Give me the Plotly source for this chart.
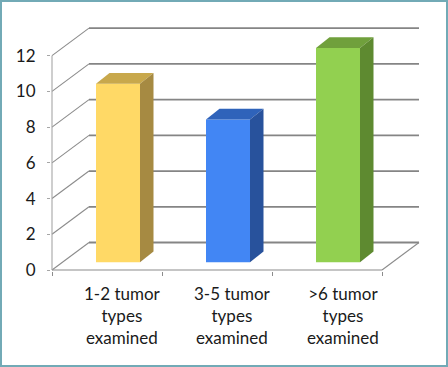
import plotly.graph_objects as go

# ---- data ----
categories = ["1-2 tumor<br>types<br>examined",
              "3-5 tumor<br>types<br>examined",
              ">6 tumor<br>types<br>examined"]
values = [10, 8, 12]
y_ticks = [0, 2, 4, 6, 8, 10, 12]

front_colors = ["#FFD966", "#4286F4", "#92D050"]
top_colors = ["#C8A84C", "#2F63BA", "#70A03C"]
side_colors = ["#A68A42", "#28529C", "#5E8A30"]

# ---- layout geometry ----
W, H = 448, 367
L, R, T, B = 51, 25, 24, 96
PX_X = 110.0   # pixels per category
PX_Y = 17.86   # pixels per value unit
x_lo = -0.5 - 1 / PX_X
x_hi = x_lo + (W - L - R) / PX_X
y_lo = -1 / PX_Y
y_hi = y_lo + (H - T - B) / PX_Y
PW, PH = W - L - R, H - T - B

DX, DY = 37 / PX_X, 27.5 / PX_Y          # wall depth
BAR_W = 0.4
BAR_OFF_X, BAR_OFF_Y = 0.1, 7.7 / PX_Y   # bar front offset into depth
BDX, BDY = 13.5 / PX_X, 10.7 / PX_Y      # bar depth
LABEL_SHIFT = 0.145

n = len(values)
x_left, x_right = -0.5, n - 0.5
idx = list(range(n))

fig = go.Figure()

# ---- grid / walls as shapes below traces ----
shapes = []
grid_col = "#858585"
diag_col = "#8c8c8c"
for v in y_ticks:
    shapes.append(dict(type="line", xref="x", yref="y", layer="below",
                       x0=x_left + DX, y0=v + DY, x1=x_right + DX, y1=v + DY,
                       line=dict(color=grid_col, width=1.8)))
    shapes.append(dict(type="line", xref="x", yref="y", layer="below",
                       x0=x_left, y0=v, x1=x_left + DX, y1=v + DY,
                       line=dict(color=diag_col, width=1.1)))
# floor front edge and right edge
shapes.append(dict(type="line", xref="x", yref="y", layer="below",
                   x0=x_left, y0=0, x1=x_right, y1=0,
                   line=dict(color="#8c8c8c", width=1.1)))
shapes.append(dict(type="line", xref="x", yref="y", layer="below",
                   x0=x_right, y0=0, x1=x_right + DX, y1=DY,
                   line=dict(color=diag_col, width=1.1)))
# front vertical axis line
shapes.append(dict(type="line", xref="x", yref="y", layer="below",
                   x0=x_left, y0=0, x1=x_left, y1=max(y_ticks),
                   line=dict(color="#a6a6a6", width=1.1)))

# outer border
def px_to_paper_x(p):
    return (p - L) / PW

def px_to_paper_y(p):
    return (H - B - p) / PH

shapes.append(dict(type="rect", xref="paper", yref="paper", layer="above",
                   x0=px_to_paper_x(1), x1=px_to_paper_x(W - 1),
                   y0=px_to_paper_y(H - 1), y1=px_to_paper_y(1),
                   line=dict(color="#72AAB6", width=2)))

# ---- bars: front faces ----
fig.add_trace(go.Bar(
    x=idx, y=values, base=BAR_OFF_Y, width=BAR_W,
    offset=-BAR_W / 2 + BAR_OFF_X,
    marker=dict(color=front_colors, line=dict(width=0)),
    hoverinfo="skip"))

# ---- bars: top and side faces ----
for i, v in enumerate(values):
    x0 = i - BAR_W / 2 + BAR_OFF_X
    x1 = x0 + BAR_W
    yb = BAR_OFF_Y
    yt = v + BAR_OFF_Y
    fig.add_trace(go.Scatter(
        x=[x0, x1, x1 + BDX, x0 + BDX, x0],
        y=[yt, yt, yt + BDY, yt + BDY, yt],
        fill="toself", fillcolor=top_colors[i], mode="lines",
        line=dict(width=0, color=top_colors[i]), hoverinfo="skip"))
    fig.add_trace(go.Scatter(
        x=[x1, x1 + BDX, x1 + BDX, x1, x1],
        y=[yb, yb + BDY, yt + BDY, yt, yb],
        fill="toself", fillcolor=side_colors[i], mode="lines",
        line=dict(width=0, color=side_colors[i]), hoverinfo="skip"))

# ---- category labels ----
annotations = []
for i, c in enumerate(categories):
    annotations.append(dict(
        x=i + LABEL_SHIFT, xref="x", y=px_to_paper_y(281), yref="paper",
        yanchor="top", xanchor="center", showarrow=False, text=c,
        font=dict(family="Lato, Liberation Sans, sans-serif", size=17,
                  color="#1a1a1a")))

font_main = dict(family="Lato, Liberation Sans, sans-serif", size=17, color="#1a1a1a")

fig.update_layout(
    width=W, height=H,
    margin=dict(l=L, r=R, t=T, b=B, pad=0),
    paper_bgcolor="white", plot_bgcolor="white",
    showlegend=False,
    shapes=shapes, annotations=annotations,
    xaxis=dict(range=[x_lo, x_hi], tickvals=[-0.5 + k for k in range(n + 1)],
               ticktext=[""] * (n + 1), ticks="outside", ticklen=4,
               tickcolor="#8c8c8c", tickwidth=1, showgrid=False,
               zeroline=False, showline=False, fixedrange=True),
    yaxis=dict(range=[y_lo, y_hi], tickvals=y_ticks, ticks="outside",
               ticklen=3, tickcolor="#a6a6a6", tickwidth=1, showgrid=False,
               zeroline=False, showline=False, tickfont=font_main,
               ticklabelstandoff=8, fixedrange=True),
    font=font_main,
)

fig.write_html("out.html", config={"displayModeBar": False},
               post_script="document.body.style.margin='0';"
                           "document.body.style.overflow='hidden';")
